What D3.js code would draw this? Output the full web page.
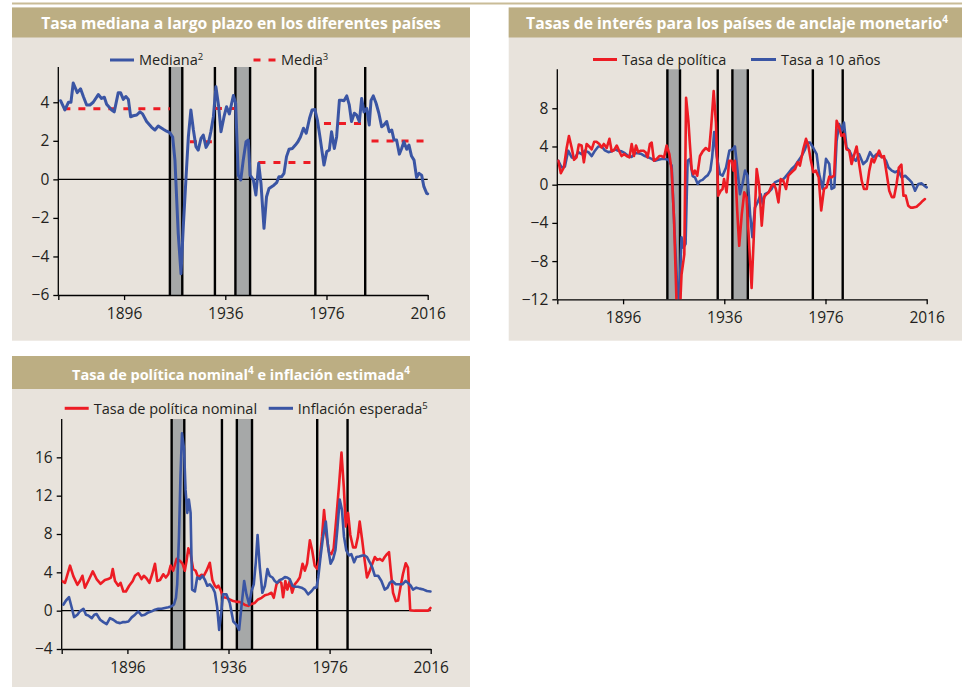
<!DOCTYPE html>
<html><head><meta charset="utf-8">
<script src="https://cdn.jsdelivr.net/npm/d3@7"></script>
<style>
body{margin:0;background:#fff}
svg{display:block}
text{font-family:"Open Sans","Noto Sans",sans-serif;fill:#231f20}
</style>
</head><body>
<svg id="c" width="962" height="687"></svg>
<script>
// ---------------- DATA ----------------
const xTickYears = [1870, 1896, 1936, 1976, 2016];
const xTickLabels = ["", "1896", "1936", "1976", "2016"];
const yTicks1 = [-6, -4, -2, 0, 2, 4];
const yTicks2 = [-12, -8, -4, 0, 4, 8];
const yTicks3 = [-4, 0, 4, 8, 12, 16];

const title1 = [["Tasa mediana a largo plazo en los diferentes países", false]];
const title2 = [["Tasas de interés para los países de anclaje monetario", false], ["4", true]];
const title3 = [["Tasa de política nominal", false], ["4", true], [" e inflación estimada", false], ["4", true]];

const legend1 = [["Mediana", "2"], ["Media", "3"]];
const legend2 = [["Tasa de política", ""], ["Tasa a 10 años", ""]];
const legend3 = [["Tasa de política nominal", ""], ["Inflación esperada", "5"]];

// event lines (years) and shaded war periods
const events1 = [1914.1, 1919.0, 1931.9, 1940.0, 1945.8, 1971.6, 1991.3];
const bands1 = [[1914.1, 1919.0], [1940.0, 1945.8]];
const events2 = [1913.5, 1918.5, 1933.4, 1939.2, 1945.3, 1971.0, 1982.8];
const bands2 = [[1913.5, 1918.5], [1939.2, 1945.3]];
const events3 = [1913.5, 1918.5, 1933.4, 1939.3, 1945.3, 1971.1, 1983.1];
const bands3 = [[1913.5, 1918.5], [1939.3, 1945.3]];

// Panel 1: median long-term rate
const mediana = [[1870.9,4.08],[1872.6,3.6],[1874.0,4.0],[1875.0,4.0],[1875.9,5.0],[1877.5,4.5],[1878.8,4.7],[1879.9,4.3],[1881.2,3.86],[1882.5,3.86],[1883.8,4.0],[1885.8,4.4],[1887.1,4.2],[1888.2,4.26],[1889.1,3.9],[1891.1,3.6],[1892.1,3.5],[1893.7,4.5],[1894.6,4.5],[1895.7,4.15],[1896.7,4.3],[1897.7,4.15],[1898.6,3.25],[1899.6,3.3],[1901.0,3.34],[1902.3,3.5],[1903.3,3.4],[1904.9,3.0],[1906.9,2.7],[1908.2,2.56],[1909.5,2.77],[1911.5,2.6],[1912.8,2.5],[1914.1,2.42],[1915.2,2.2],[1916.1,1.0],[1917.4,-2.8],[1918.5,-4.9],[1919.4,-2.45],[1920.5,0.14],[1921.4,2.2],[1922.4,3.6],[1923.4,2.56],[1924.4,1.7],[1925.3,1.52],[1926.4,2.13],[1927.3,2.3],[1928.4,1.66],[1929.3,1.87],[1930.3,2.47],[1931.3,3.25],[1932.3,4.8],[1933.4,3.77],[1934.3,2.47],[1935.5,3.25],[1936.5,3.77],[1937.6,3.4],[1939.2,4.35],[1940.1,3.95],[1941.1,0.22],[1942.1,-0.03],[1943.1,1.0],[1944.2,1.95],[1945.1,2.04],[1945.8,0.22],[1947.1,-0.03],[1948.1,-0.81],[1949.2,0.83],[1950.1,-0.2],[1951.3,-2.54],[1952.3,-0.9],[1953.3,-0.47],[1954.3,-0.38],[1955.2,-0.3],[1956.3,-0.17],[1957.2,0.14],[1958.3,0.14],[1959.2,0.31],[1960.2,1.18],[1961.2,1.56],[1962.5,1.6],[1963.7,1.78],[1964.7,1.95],[1965.7,2.2],[1966.9,2.65],[1968.0,2.39],[1969.3,3.17],[1970.3,3.6],[1971.4,3.63],[1972.4,3.08],[1973.6,2.04],[1975.0,0.74],[1976.1,1.44],[1977.1,1.52],[1978.0,2.47],[1979.1,1.6],[1980.0,2.2],[1981.1,4.1],[1982.0,4.1],[1982.9,4.08],[1984.0,4.33],[1985.0,3.86],[1985.9,3.0],[1987.0,3.43],[1987.9,3.34],[1989.0,3.0],[1989.9,4.2],[1990.8,3.5],[1991.9,3.68],[1992.9,2.82],[1993.6,4.1],[1994.5,4.33],[1995.6,3.95],[1996.7,3.43],[1997.8,2.73],[1998.7,2.82],[1999.8,3.0],[2000.8,2.47],[2001.8,2.56],[2002.7,2.04],[2003.7,2.04],[2004.8,1.31],[2005.7,1.6],[2006.6,1.95],[2007.7,1.56],[2008.6,1.78],[2009.6,1.21],[2010.6,1.0],[2011.6,0.1],[2012.6,0.31],[2013.6,0.22],[2014.5,-0.38],[2015.6,-0.73],[2016.0,-0.75]];
// period means: [start, end, value]
const mediaSegments = [[1872.0,1914.1,3.67],[1922.0,1931.9,1.95],[1931.9,1939.8,3.68],[1949.1,1971.5,0.87],[1975.0,1991.3,2.9],[1993.8,2016.0,1.99]];

// Panel 2: anchor country rates
const tasaPolitica2 = [[1870.4,2.5],[1871.4,1.2],[1872.6,1.8],[1873.7,3.84],[1874.6,5.1],[1875.7,3.84],[1876.6,2.6],[1877.6,2.86],[1878.5,4.2],[1879.6,4.1],[1880.5,2.34],[1881.6,4.26],[1882.6,4.0],[1883.6,3.7],[1884.6,4.5],[1885.5,4.5],[1886.6,4.26],[1887.5,3.9],[1888.4,4.26],[1889.5,3.84],[1890.6,4.8],[1891.5,3.5],[1892.4,3.6],[1893.5,4.1],[1894.5,3.5],[1895.4,3.0],[1896.4,3.2],[1897.4,3.0],[1898.5,2.86],[1899.4,4.26],[1900.3,3.0],[1901.1,4.1],[1902.0,3.4],[1903.0,3.56],[1904.0,3.56],[1904.9,3.4],[1905.7,2.86],[1906.6,4.26],[1907.3,4.4],[1908.2,2.5],[1909.3,2.7],[1910.3,3.0],[1911.2,3.0],[1912.2,2.86],[1913.2,4.1],[1914.3,3.2],[1915.2,1.47],[1916.1,-3.4],[1917.2,-13],[1918.5,-13],[1919.1,-9.4],[1920.2,-7.3],[1920.9,9.1],[1921.8,6.7],[1922.4,4.26],[1923.1,1.64],[1923.8,1.1],[1924.4,1.47],[1925.3,0.94],[1926.4,3.0],[1927.5,3.5],[1928.7,3.84],[1930.0,3.56],[1930.8,6.0],[1931.8,9.8],[1932.7,6.5],[1933.6,-1.15],[1934.6,-0.63],[1935.3,-0.45],[1935.9,0.6],[1936.9,-0.8],[1937.9,2.5],[1938.9,2.5],[1939.6,1.47],[1940.2,2.5],[1941.1,-2.7],[1941.9,-6.4],[1942.9,-3.1],[1943.9,-0.8],[1944.8,-1.3],[1945.9,-6.6],[1946.8,-10.8],[1947.7,-5.2],[1948.8,1.64],[1949.8,-0.1],[1950.8,-4.3],[1951.7,-1.3],[1952.7,-1.0],[1953.6,-0.8],[1954.7,-0.1],[1955.6,0.07],[1956.4,-0.45],[1957.4,-1.85],[1958.3,0.6],[1959.3,0.42],[1960.4,-0.45],[1961.3,0.94],[1962.6,1.3],[1964.0,1.64],[1965.0,2.34],[1965.9,2.0],[1967.2,3.7],[1968.3,4.8],[1969.2,4.1],[1970.1,2.7],[1971.2,1.3],[1972.2,1.47],[1973.3,0.77],[1974.3,-2.7],[1975.4,-0.45],[1976.4,-0.28],[1977.5,0.84],[1978.4,0.77],[1979.4,0.94],[1980.4,6.7],[1981.4,6.0],[1982.3,5.1],[1983.3,5.3],[1984.3,3.7],[1985.4,3.56],[1986.3,2.16],[1987.2,3.0],[1988.3,4.0],[1989.2,2.34],[1990.3,0.42],[1991.2,-0.45],[1992.3,-0.45],[1993.3,1.47],[1994.3,2.7],[1995.2,2.34],[1996.2,3.0],[1997.2,3.56],[1998.2,2.86],[1999.1,3.0],[2000.2,1.1],[2001.2,-0.63],[2002.2,-1.3],[2003.1,-1.3],[2004.1,0.07],[2005.0,1.8],[2006.0,2.1],[2006.8,-1.15],[2007.7,-1.15],[2008.7,-2.2],[2009.6,-2.4],[2010.7,-2.4],[2012.0,-2.3],[2013.3,-2.0],[2014.4,-1.7],[2015.3,-1.5]];
const tasa10 = [[1870.4,2.5],[1871.7,1.8],[1873.0,1.9],[1874.3,3.56],[1875.7,2.86],[1877.0,2.8],[1878.3,3.4],[1879.6,3.2],[1880.9,3.56],[1882.3,3.4],[1883.6,3.0],[1884.9,3.56],[1886.2,4.0],[1887.5,4.0],[1888.8,3.6],[1890.2,3.4],[1891.5,3.5],[1892.8,3.7],[1894.1,3.56],[1895.4,3.5],[1896.7,3.3],[1898.1,3.0],[1899.4,2.9],[1900.7,3.3],[1902.0,3.3],[1903.3,3.2],[1904.6,3.0],[1906.0,2.86],[1907.3,2.7],[1908.6,2.5],[1909.9,2.6],[1911.2,2.7],[1912.6,2.7],[1913.9,2.6],[1915.2,2.0],[1915.8,-1.7],[1917.2,-9.7],[1918.1,-12.5],[1919.1,-5.5],[1919.8,-6.6],[1920.7,-6.2],[1921.5,2.5],[1922.4,2.7],[1923.5,0.9],[1924.4,0.77],[1925.5,0.07],[1926.4,0.4],[1927.4,0.5],[1928.4,0.77],[1929.5,1.0],[1930.5,1.5],[1931.2,2.86],[1932.0,5.5],[1933.0,3.0],[1934.3,1.1],[1935.3,0.94],[1936.7,1.8],[1938.0,3.56],[1939.2,3.7],[1940.2,4.0],[1941.1,1.8],[1942.2,-1.0],[1943.2,0.07],[1944.2,1.47],[1945.2,0.94],[1946.2,-3.1],[1947.1,-5.5],[1948.1,-2.4],[1949.4,-1.7],[1950.4,-1.0],[1951.2,-2.0],[1952.1,-1.0],[1953.4,-0.8],[1954.7,-0.45],[1956.0,0.24],[1957.4,0.42],[1958.7,0.42],[1960.0,0.77],[1961.3,1.2],[1962.6,1.64],[1964.0,2.0],[1965.3,2.5],[1966.6,3.0],[1967.9,3.7],[1968.8,4.4],[1969.9,4.4],[1971.2,3.84],[1972.5,3.2],[1973.5,1.1],[1974.9,-0.45],[1976.2,2.7],[1977.5,2.16],[1978.4,-0.45],[1979.5,-0.28],[1980.4,4.6],[1981.4,6.35],[1982.4,5.65],[1983.3,6.5],[1984.3,3.9],[1985.4,3.56],[1986.7,2.86],[1988.0,2.5],[1989.3,3.2],[1990.9,2.16],[1992.3,2.5],[1993.6,3.4],[1994.9,2.86],[1996.2,3.2],[1997.6,3.0],[1998.9,2.86],[1999.9,2.5],[2000.9,1.8],[2002.2,1.47],[2003.5,1.3],[2004.8,1.47],[2006.1,0.77],[2007.5,0.94],[2008.8,0.6],[2010.1,0.24],[2011.4,-0.63],[2012.7,0.07],[2014.0,0.14],[2015.0,-0.1],[2016.0,-0.28]];

// Panel 3: nominal policy rate and expected inflation
const tasaNominal = [[1870.0,3.1],[1871.3,2.9],[1873.3,4.7],[1874.6,3.6],[1876.2,2.7],[1877.2,3.1],[1878.2,3.64],[1879.2,2.4],[1880.5,3.1],[1882.3,4.1],[1883.8,3.3],[1885.4,2.8],[1887.1,3.2],[1888.4,3.3],[1889.5,3.46],[1890.2,4.35],[1891.1,3.1],[1892.4,2.6],[1893.3,2.9],[1894.4,2.0],[1895.4,2.0],[1896.7,2.6],[1898.1,3.1],[1899.0,3.64],[1900.3,3.9],[1901.6,3.3],[1902.5,3.64],[1903.6,3.36],[1904.7,2.9],[1905.8,3.8],[1906.9,4.9],[1907.8,3.1],[1908.9,3.2],[1910.2,3.8],[1911.2,3.46],[1912.2,3.8],[1913.1,4.7],[1914.1,4.17],[1915.5,5.4],[1916.8,5.2],[1917.8,4.9],[1918.7,4.17],[1919.4,5.2],[1920.1,6.5],[1921.0,5.9],[1922.0,4.35],[1923.0,4.17],[1924.0,3.46],[1925.3,3.75],[1926.2,3.64],[1927.3,4.17],[1928.6,5.0],[1929.6,3.2],[1930.6,2.6],[1931.3,2.4],[1932.0,2.6],[1932.8,2.2],[1933.9,1.4],[1935.2,1.34],[1936.5,1.17],[1937.9,1.0],[1939.2,0.92],[1940.2,0.92],[1941.2,0.81],[1942.5,0.6],[1943.8,0.5],[1945.1,0.7],[1946.4,0.81],[1947.7,1.17],[1949.1,1.34],[1950.4,1.6],[1951.7,1.7],[1953.0,1.87],[1953.9,1.34],[1955.0,2.75],[1956.0,3.1],[1956.9,2.9],[1957.6,1.4],[1958.5,3.1],[1959.3,2.2],[1960.2,3.1],[1961.2,1.87],[1962.2,2.75],[1963.3,3.1],[1964.2,3.46],[1965.3,4.9],[1966.2,4.17],[1967.1,4.9],[1968.2,7.35],[1969.1,6.3],[1970.1,4.7],[1971.1,4.35],[1972.2,5.6],[1973.0,7.7],[1973.8,10.5],[1974.7,7.9],[1975.8,6.1],[1976.7,5.9],[1977.6,6.5],[1978.7,9.8],[1979.7,13.0],[1980.7,16.5],[1981.6,13.0],[1982.4,8.8],[1983.3,10.2],[1984.2,7.9],[1985.3,6.6],[1986.3,6.6],[1987.2,7.7],[1987.9,9.3],[1988.9,7.35],[1989.9,5.2],[1990.8,3.46],[1991.9,4.17],[1992.9,4.9],[1993.9,5.6],[1994.8,5.3],[1995.9,5.4],[1996.9,5.2],[1997.8,5.6],[1998.7,5.9],[1999.5,6.1],[2000.2,4.17],[2001.1,1.87],[2002.2,1.0],[2003.1,1.06],[2004.0,2.4],[2005.0,3.8],[2006.1,4.95],[2007.0,4.5],[2007.9,0.05],[2009.6,0.0],[2012.3,0.0],[2015.0,0.0],[2015.9,0.28]];
const inflacionEsperada = [[1870.7,0.64],[1871.7,1.06],[1872.9,1.4],[1874.0,0.28],[1874.9,-0.67],[1876.2,-0.42],[1877.2,-0.07],[1878.6,0.2],[1879.6,-0.42],[1880.5,-0.5],[1881.9,-0.78],[1882.9,-0.42],[1883.8,-0.35],[1885.2,-0.95],[1886.5,-1.2],[1887.8,-1.41],[1889.1,-0.78],[1890.4,-0.95],[1891.7,-1.2],[1893.1,-1.3],[1894.1,-1.2],[1895.0,-1.2],[1896.4,-1.13],[1897.7,-0.7],[1899.0,-0.42],[1900.3,-0.07],[1901.6,-0.5],[1902.9,-0.42],[1904.3,-0.18],[1905.6,-0.07],[1906.9,0.1],[1908.2,0.2],[1909.5,0.2],[1910.8,0.28],[1912.2,0.35],[1913.5,0.46],[1914.4,0.64],[1915.2,1.34],[1915.7,2.75],[1916.4,7.7],[1917.0,14.1],[1917.6,18.5],[1918.4,16.9],[1919.0,12.6],[1919.7,10.2],[1920.3,11.6],[1921.0,10.2],[1921.6,2.2],[1922.7,2.0],[1923.6,3.46],[1924.7,3.3],[1925.7,3.64],[1926.7,3.2],[1927.6,2.6],[1928.6,2.75],[1929.7,2.4],[1930.6,1.9],[1931.5,0.4],[1932.3,-2.0],[1933.2,0.0],[1933.8,1.7],[1935.2,1.7],[1936.5,0.8],[1937.9,-1.13],[1939.2,-1.48],[1940.2,-2.0],[1941.2,0.64],[1942.2,3.1],[1943.1,1.7],[1944.2,0.64],[1945.1,2.05],[1946.0,2.75],[1946.8,5.05],[1947.5,7.9],[1948.4,4.5],[1949.4,1.87],[1950.4,2.6],[1951.4,4.35],[1952.3,3.64],[1953.4,3.46],[1954.3,3.1],[1955.2,2.9],[1956.3,3.2],[1957.3,3.3],[1958.3,3.5],[1959.2,3.46],[1960.2,3.3],[1961.3,2.6],[1962.2,2.5],[1963.5,2.5],[1964.9,2.4],[1966.2,2.2],[1967.5,1.7],[1968.9,2.05],[1969.9,2.4],[1970.8,2.4],[1971.5,3.46],[1972.4,5.6],[1973.4,7.7],[1974.5,9.3],[1975.4,6.6],[1976.4,4.9],[1977.4,5.4],[1978.3,6.3],[1979.1,8.6],[1980.0,11.6],[1980.9,10.5],[1981.7,7.7],[1982.6,6.3],[1983.7,5.76],[1984.6,5.9],[1985.7,5.05],[1986.6,5.6],[1987.7,5.65],[1989.0,5.76],[1989.9,5.76],[1990.8,5.6],[1991.9,5.05],[1992.9,4.5],[1993.9,3.64],[1995.2,3.64],[1996.5,3.1],[1997.8,2.2],[1998.9,2.4],[1999.8,2.9],[2000.8,3.1],[2002.2,2.75],[2003.5,2.75],[2004.8,2.75],[2006.1,3.1],[2007.0,2.9],[2008.1,2.6],[2009.0,2.2],[2010.3,2.4],[2011.6,2.3],[2013.2,2.2],[2014.5,2.05],[2015.9,2.0]];

// ---------------- STYLE ----------------
const C = {bg:"#e8e3dc", bar:"#bcae83", rule:"#c9bc97", blue:"#3a55a4", red:"#ed1c24", band:"#a6a8a8", ink:"#231f20"};

const svg = d3.select("#c");
svg.append("rect").attr("x",12).attr("y",2.5).attr("width",950).attr("height",2).attr("fill",C.rule);

function drawTitle(g, parts, cx, baseY, fs){
  const t = g.append("text").attr("x",cx).attr("y",baseY).attr("text-anchor","middle")
    .style("font-weight","700").style("font-size",fs+"px").style("fill","#fff");
  let prevSup = false;
  parts.forEach(([s, sup])=>{
    const ts = t.append("tspan").text(s);
    if (sup) { ts.attr("dy",-6).style("font-size","10px"); prevSup = true; }
    else if (prevSup) { ts.attr("dy",6); prevSup = false; }
  });
}

function legendText(g, x, y, label, sup){
  const t = g.append("text").attr("x",x).attr("y",y).style("font-size","14.5px").style("fill",C.ink);
  t.append("tspan").text(label);
  if (sup) t.append("tspan").attr("dy",-5).style("font-size","9.5px").text(sup);
}

function panel(cfg){
  const g = svg.append("g");
  g.append("rect").attr("x",cfg.box[0]).attr("y",cfg.box[1]).attr("width",cfg.box[2]-cfg.box[0]).attr("height",cfg.box[3]-cfg.box[1]).attr("fill",C.bg);
  g.append("rect").attr("x",cfg.box[0]).attr("y",cfg.box[1]).attr("width",cfg.box[2]-cfg.box[0]).attr("height",cfg.barH).attr("fill",C.bar);
  drawTitle(g, cfg.title, cfg.titleX, cfg.box[1]+cfg.titleBase, cfg.titleSize);

  const x = d3.scaleLinear().domain([1870,2016]).range([cfg.x0,cfg.x1]);
  const y = d3.scaleLinear().domain(cfg.yDomain).range([cfg.yB,cfg.yT]);

  const clipId = "clip"+cfg.id;
  svg.append("clipPath").attr("id",clipId).append("rect")
    .attr("x",cfg.x0).attr("y",cfg.yT-2).attr("width",cfg.x1-cfg.x0+3).attr("height",cfg.yB-cfg.yT+2);

  g.selectAll(null).data(cfg.bands).enter().append("rect")
    .attr("x",d=>x(d[0])).attr("width",d=>x(d[1])-x(d[0]))
    .attr("y",cfg.yT).attr("height",cfg.yB-cfg.yT).attr("fill",C.band);
  g.selectAll(null).data(cfg.events).enter().append("line")
    .attr("x1",d=>x(d)).attr("x2",d=>x(d)).attr("y1",cfg.yT).attr("y2",cfg.yB)
    .attr("stroke","#000").attr("stroke-width",2.4);
  g.append("line").attr("x1",cfg.x0).attr("x2",cfg.x1).attr("y1",y(0)).attr("y2",y(0))
    .attr("stroke","#000").attr("stroke-width",1.2);

  const ya = d3.axisLeft(y).tickValues(cfg.yTicks).tickSize(5).tickPadding(4).tickSizeOuter(0);
  const yg = g.append("g").attr("transform",`translate(${cfg.x0},0)`).call(ya);
  const xa = d3.axisBottom(x).tickValues(xTickYears).tickFormat((d,i)=>xTickLabels[i]).tickSize(5).tickPadding(8).tickSizeOuter(0);
  const xg = g.append("g").attr("transform",`translate(0,${cfg.yB})`).call(xa);
  [yg,xg].forEach(a=>{
    a.select(".domain").attr("stroke","#000").attr("stroke-width",1.3);
    a.selectAll(".tick line").attr("stroke","#000").attr("stroke-width",1.3);
    a.selectAll("text").style("font-size","15.5px").style("font-family","'Open Sans',sans-serif").attr("fill",C.ink);
  });
  yg.select(".domain").attr("d",`M0,${cfg.yB}V${cfg.yT}`);

  const line = d3.line().x(d=>x(d[0])).y(d=>y(d[1])).curve(d3.curveLinear);
  const dg = g.append("g").attr("clip-path",`url(#${clipId})`);
  cfg.series.forEach(s=>{
    if (s.segments){
      dg.selectAll(null).data(s.segments).enter().append("line")
        .attr("x1",d=>x(d[0])).attr("x2",d=>x(d[1])).attr("y1",d=>y(d[2])).attr("y2",d=>y(d[2]))
        .attr("stroke",s.color).attr("stroke-width",3).attr("stroke-dasharray","7,8");
    } else {
      dg.append("path").datum(s.data).attr("d",line).attr("fill","none")
        .attr("stroke",s.color).attr("stroke-width",s.w).attr("stroke-linejoin","round").attr("stroke-linecap","round");
    }
  });

  cfg.legend.forEach((L,i)=>{
    const [label,sup] = cfg.legendLabels[i];
    const lg = g.append("line").attr("x1",L.x1).attr("x2",L.x2).attr("y1",L.y).attr("y2",L.y)
      .attr("stroke",L.color).attr("stroke-width",3);
    if (L.dash) lg.attr("stroke-dasharray","7,8");
    legendText(g, L.tx, L.y+5.2, label, sup);
  });
}

panel({id:1, box:[12,7.5,470,340.7], barH:30, title:title1, titleX:241, titleBase:21.5, titleSize:15.7,
  x0:58.3, x1:427.7, yT:67, yB:295, yDomain:[-6,5.83], yTicks:yTicks1,
  bands:bands1, events:events1,
  series:[{segments:mediaSegments,color:C.red},{data:mediana,color:C.blue,w:3}],
  legendLabels:legend1,
  legend:[{x1:110,x2:134,y:60,color:C.blue,tx:139},{x1:253.5,x2:276.5,y:60,color:C.red,dash:true,tx:281}]});

panel({id:2, box:[508.7,7.5,962,340.7], barH:30, title:title2, titleX:737, titleBase:21.5, titleSize:15.7,
  x0:557.3, x1:926.7, yT:69.3, yB:299.3, yDomain:[-12,12.08], yTicks:yTicks2,
  bands:bands2, events:events2,
  series:[{data:tasa10,color:C.blue,w:2.6},{data:tasaPolitica2,color:C.red,w:2.6}],
  legendLabels:legend2,
  legend:[{x1:593,x2:617,y:59.5,color:C.red,tx:622},{x1:751,x2:776,y:59.5,color:C.blue,tx:781}]});

panel({id:3, box:[12,356,470,687], barH:33, title:title3, titleX:241, titleBase:23.5, titleSize:14.5,
  x0:61.7, x1:430.7, yT:419, yB:649, yDomain:[-4,20], yTicks:yTicks3,
  bands:bands3, events:events3,
  series:[{data:tasaNominal,color:C.red,w:2.6},{data:inflacionEsperada,color:C.blue,w:2.6}],
  legendLabels:legend3,
  legend:[{x1:64.7,x2:88.7,y:408.3,color:C.red,tx:93.7},{x1:268.7,x2:293,y:408.3,color:C.blue,tx:297.7}]});
</script>
</body></html>
